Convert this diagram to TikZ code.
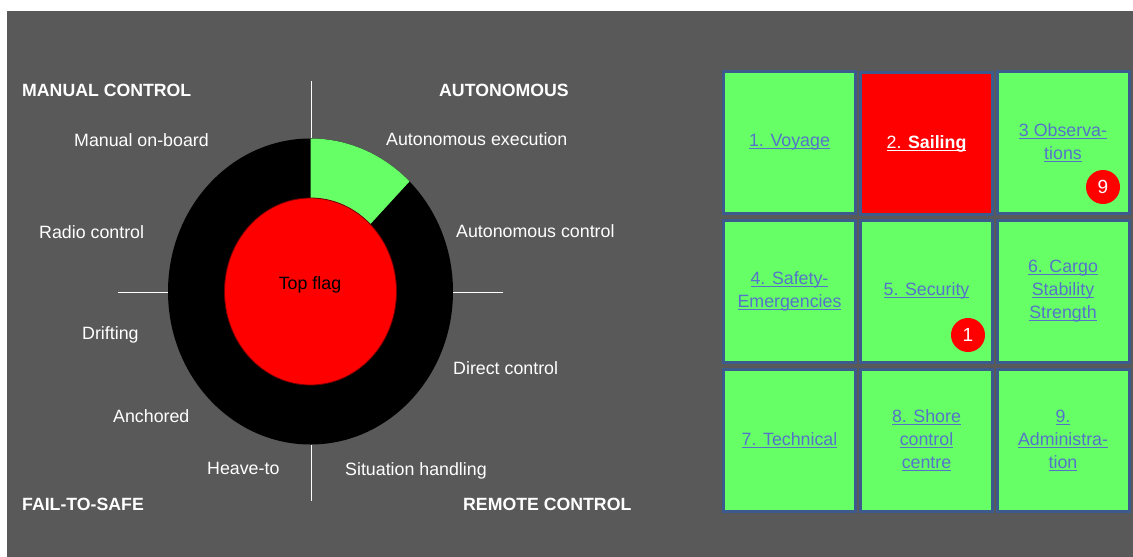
\documentclass[tikz,border=0pt]{standalone}
\usepackage{fontspec}
\setmainfont{Liberation Sans}
\usetikzlibrary{calc}

\definecolor{panelgrey}{RGB}{89,89,89}
\definecolor{tilegreen}{RGB}{102,255,102}
\definecolor{flagred}{RGB}{255,0,0}
\definecolor{tileedge}{RGB}{60,90,140}
\definecolor{linkblue}{RGB}{85,115,200}

% underlined link text
\newcommand{\lnk}[1]{\setbox0\hbox{#1}\rlap{\rule[-2.6pt]{\wd0}{1pt}}\box0}

\tikzset{
  lbl/.style={anchor=base west, inner sep=0pt, text=white, font=\fontsize{17.8}{21}\selectfont},
  head/.style={lbl, font=\fontsize{17.7}{21}\selectfont\bfseries},
  tile/.style={draw=tileedge, line width=3pt, fill=tilegreen, minimum width=132pt, minimum height=142pt,
    inner sep=0pt, align=center, text=linkblue, font=\fontsize{17.8}{23}\selectfont},
  badge/.style={circle, fill=flagred, minimum size=34pt, inner sep=0pt, text=white, font=\fontsize{19}{20}\selectfont},
  axisline/.style={white, line width=1pt}
}

\begin{document}
\begin{tikzpicture}[x=1pt, y=1pt]
    % background
    \useasboundingbox (0,0) rectangle (1133,-557);
    \fill[white] (0,0) rectangle (1133,-557);
    \fill[panelgrey] (7,-11) rectangle (1133,-557);

    % centre of the dial
    \coordinate (O) at (310.5,-291.5);
    \coordinate (T1) at (311,-81);
    \coordinate (T2) at (311,-138);
    \coordinate (B1) at (311,-445);
    \coordinate (B2) at (311,-501);
    \coordinate (L1) at (118,-292);
    \coordinate (L2) at (169,-292);
    \coordinate (R1) at (453,-292);
    \coordinate (R2) at (503,-292);

    % axis lines
    \draw[axisline] (T1) -- (T2);
    \draw[axisline] (B1) -- (B2);
    \draw[axisline] (L1) -- (L2);
    \draw[axisline] (R1) -- (R2);

    % dial
    \fill[black] (O) ellipse [x radius=142.5, y radius=153];
    \fill[tilegreen] ($(O)+(90:142.5 and 153)$) arc[start angle=90, end angle=46, x radius=142.5, y radius=153]
        -- ($(O)+(46:86 and 93.5)$) arc[start angle=46, end angle=90, x radius=86, y radius=93.5] -- cycle;
    \filldraw[fill=flagred, draw=red!45!black, line width=0.8pt] (O) ellipse [x radius=86, y radius=93.5];
    \node[anchor=base, inner sep=0pt, font=\fontsize{17.8}{21}\selectfont] (flag) at (310,-289.5) {Top flag};

    % quadrant titles
    \node[head] (manual) at (22,-96) {MANUAL CONTROL};
    \node[head] (autonomous) at (439,-96) {AUTONOMOUS};
    \node[head] (failsafe) at (22,-510) {FAIL-TO-SAFE};
    \node[head] (remote) at (463,-510) {REMOTE CONTROL};

    % modes
    \node[lbl] (onboard) at (74,-146) {Manual on-board};
    \node[lbl] (radio) at (39,-238) {Radio control};
    \node[lbl] (drifting) at (82,-339.5) {Drifting};
    \node[lbl] (anchored) at (113,-422) {Anchored};
    \node[lbl] (heaveto) at (207,-474) {Heave-to};
    \node[lbl] (autoexec) at (386,-145) {Autonomous execution};
    \node[lbl] (autoctrl) at (456,-237) {Autonomous control};
    \node[lbl] (direct) at (453,-374) {Direct control};
    \node[lbl] (situation) at (345,-475) {Situation handling};

    % menu tiles
    \node[tile] (voyage) at (789.5,-142.5) {\lnk{1. Voyage}};
    \node[tile, fill=flagred, text=white] (sailing) at (926.5,-143.5) {\lnk{2. \textbf{Sailing}}};
    \node[tile] (observ) at (1063,-142.5) {\lnk{3 Observa-}\\\lnk{tions}};
    \node[tile] (safety) at (789.5,-291) {\lnk{4. Safety-}\\\lnk{Emergencies}};
    \node[tile] (security) at (926.5,-291) {\lnk{5. Security}};
    \node[tile] (cargo) at (1063,-291) {\lnk{6. Cargo}\\\lnk{Stability}\\\lnk{Strength}};
    \node[tile] (technical) at (789.5,-440.5) {\lnk{7. Technical}};
    \node[tile] (shore) at (926.5,-440.5) {\lnk{8. Shore}\\\lnk{control}\\\lnk{centre}};
    \node[tile] (admin) at (1063,-440.5) {\lnk{9.}\\\lnk{Administra-}\\\lnk{tion}};

    % counters
    \node[badge] (obsbadge) at (1103,-187) {9};
    \node[badge] (secbadge) at (968,-335) {1};
\end{tikzpicture}
\end{document}
